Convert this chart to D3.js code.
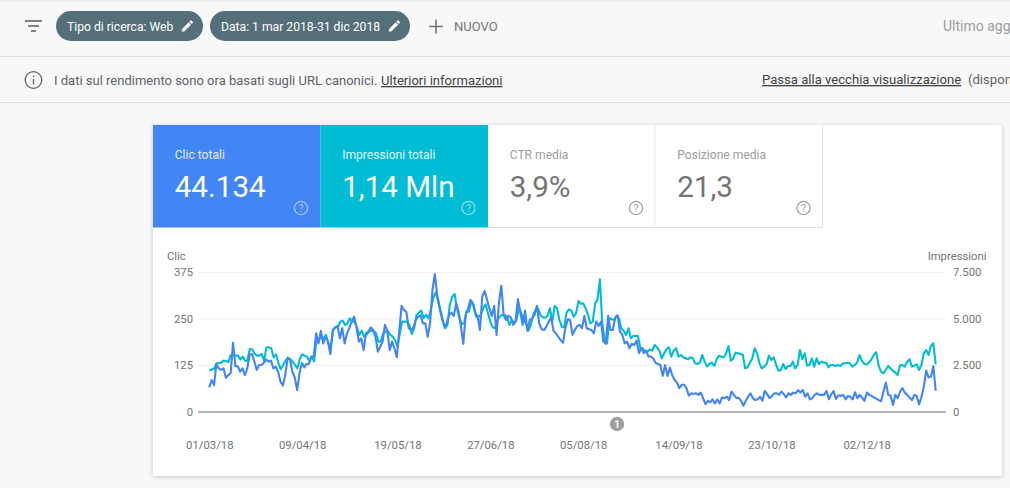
<!DOCTYPE html>
<html><head><meta charset="utf-8">
<script src="https://cdn.jsdelivr.net/npm/d3@7"></script>
<style>
html,body{margin:0;padding:0;background:#f8f8f8;overflow:hidden}
svg{display:block;font-family:Roboto,sans-serif}
</style></head><body>
<svg id="c" width="1010" height="488"></svg>
<script>
const clicks=[66,86,72,129,117,113,117,92,99,104,186,123,123,108,117,99,117,153,156,135,113,126,126,132,141,135,138,117,122,108,81,71,99,146,141,108,93,59,104,132,120,129,129,149,149,211,184,218,184,202,189,155,220,227,231,198,225,184,211,225,243,256,227,189,198,166,211,216,227,220,202,162,175,189,234,218,166,189,171,147,216,285,274,269,225,220,227,247,256,260,238,238,202,238,327,370,314,283,256,231,238,260,
267,258,292,270,229,183,260,278,301,292,265,258,220,310,325,301,278,258,285,207,292,339,260,247,258,254,234,243,303,269,234,272,218,247,251,260,285,238,222,220,229,243,254,218,211,202,193,186,225,249,247,207,220,231,234,225,258,225,222,220,211,243,231,243,189,183,258,220,220,254,260,216,207,184,189,171,183,180,192,158,171,158,165,149,149,144,132,129,126,97,126,97,119,99,86,79,64,73,73,64,44,50,48,50,46,52,37,21,30,26,34,23,34,
23,39,37,41,32,55,46,38,38,30,17,30,41,50,37,32,34,41,30,57,48,37,43,50,50,46,55,48,39,50,46,52,50,59,52,59,41,50,34,37,46,50,46,46,46,57,34,48,56,35,45,43,46,34,43,41,34,53,37,46,38,30,52,46,43,39,36,32,29,55,79,46,44,19,46,37,55,64,52,46,39,32,46,43,20,41,68,111,93,95,123,57];
const impressions=[2202,2291,2309,2613,2631,2649,2757,2739,2685,3061,3061,3025,3025,2828,2971,2757,2757,3383,3365,3150,3025,3025,3115,2757,3473,3473,3419,2936,3097,2649,2291,2524,2757,2900,2828,2703,2524,2345,2828,3097,3025,2971,2757,2971,2703,3866,3866,4045,3956,4135,3687,3508,4403,4547,4547,4851,4905,4672,4761,5030,4851,4851,4547,4135,4368,4045,4135,4314,4368,4368,4224,3777,3777,4224,4314,4314,4135,4045,3866,3508,4224,4851,4851,4851,4672,4189,4493,5209,5334,5442,5030,5209,5030,5477,6104,6408,6014,5388,4851,4493,4672,5746,
6193,6337,5567,5030,4726,4761,5388,5388,5925,5746,5119,5119,5209,5567,5782,5298,4851,4547,4493,4940,5119,5209,5209,5119,4672,4940,4761,4940,5567,5298,4940,4761,4368,4672,5209,5477,5567,5209,5084,5066,5155,5567,4851,5692,5567,4940,4582,4547,5334,5513,5442,5119,5298,5961,5800,5835,5567,5209,4761,4851,5835,6014,7124,4761,3866,3687,5030,4976,4940,5155,5030,4493,4368,4135,4493,3956,4081,4081,4081,3419,3419,3240,3240,3365,3294,3598,3473,3294,2882,3150,3365,3473,2971,3294,3419,2971,3061,2936,2882,2828,2936,2882,2613,2578,2649,3061,2703,2434,2578,2649,2470,2828,3025,
2971,2936,3150,3544,2757,2882,3186,3150,3115,3061,2345,2399,2649,2882,3419,3150,2613,2345,2434,2578,3025,2792,2936,2524,2220,2255,2578,2309,2470,2470,2703,2345,2524,3329,2846,3150,2488,2524,2882,2434,2882,2578,2703,2649,2649,2399,2524,2524,2470,2524,2470,2613,2613,2649,2613,2434,2524,2649,3061,2757,2578,2560,2649,2828,3061,3204,2524,2166,2076,2255,2470,2345,2220,2130,1987,2506,2524,2434,2703,2828,2434,2488,2560,2255,2524,3150,3329,3061,3544,3687,2560];
const clickTicks=[0,125,250,375];
const imprTicks=[0,2500,5000,7500];
const imprLabels=["0","2.500","5.000","7.500"];
const dateTicks=["2018-03-01","2018-04-09","2018-05-19","2018-06-27","2018-08-05","2018-09-14","2018-10-23","2018-12-02"];
const tiles=[
 {label:"Clic totali",value:"44.134",fill:"#4285f4",fg:"#fff",sub:"#e3ecfd",help:"#a9c6fa"},
 {label:"Impressioni totali",value:"1,14 Mln",fill:"#00bcd4",fg:"#fff",sub:"#dff6f9",help:"#8ce0ea"},
 {label:"CTR media",value:"3,9%",fill:"#fff",fg:"#757575",sub:"#9e9e9e",help:"#9e9e9e"},
 {label:"Posizione media",value:"21,3",fill:"#fff",fg:"#757575",sub:"#9e9e9e",help:"#9e9e9e"}];

const svg=d3.select("#c");
const defs=svg.append("defs");
const f=defs.append("filter").attr("id","sh").attr("x","-5%").attr("y","-5%").attr("width","110%").attr("height","110%");
f.append("feDropShadow").attr("dx",0).attr("dy",1).attr("stdDeviation",2).attr("flood-color","#000").attr("flood-opacity",.22);
const txt=(x,y,s,size,fill,anchor)=>svg.append("text").attr("x",x).attr("y",y).attr("font-size",size).attr("fill",fill).attr("text-anchor",anchor||"start").text(s);

// page chrome
svg.append("rect").attr("width",1010).attr("height",2).attr("fill","#ececec");
[56,102].forEach(y=>svg.append("line").attr("x1",0).attr("x2",1010).attr("y1",y+.5).attr("y2",y+.5).attr("stroke","#e0e0e0").attr("stroke-width",1));
// filter icon
[[25,42,21],[28,39,26],[31,36,31]].forEach(d=>svg.append("line").attr("x1",d[0]).attr("x2",d[1]).attr("y1",d[2]).attr("y2",d[2]).attr("stroke","#5f6368").attr("stroke-width",1.6));
// chips
const pencil=(x,y)=>svg.append("path").attr("transform",`translate(${x},${y}) scale(.62)`).attr("fill","#fff").attr("d","M3 17.25V21h3.75L17.81 9.94l-3.75-3.75L3 17.25zM20.71 7.04a1 1 0 0 0 0-1.41l-2.34-2.34a1 1 0 0 0-1.41 0l-1.83 1.83 3.75 3.75 1.83-1.83z");
[[56,147,"Tipo di ricerca: Web",67,180],[210,200,"Data: 1 mar 2018-31 dic 2018",221,387]].forEach(d=>{
 svg.append("rect").attr("x",d[0]).attr("y",11).attr("width",d[1]).attr("height",30).attr("rx",15).attr("fill","#546e7a");
 txt(d[3],31,d[2],12.15,"#fff");
 pencil(d[4],18.5);
});
svg.append("path").attr("d","M436 19.5V33.5M429 26.5H443").attr("stroke","#757575").attr("stroke-width",1.6).attr("fill","none");
txt(454,31,"NUOVO",13,"#757575");
txt(943,31,"Ultimo agg",14,"#9e9e9e");
// info row
svg.append("circle").attr("cx",33.5).attr("cy",80).attr("r",8.3).attr("fill","none").attr("stroke","#616161").attr("stroke-width",1.3);
svg.append("path").attr("d","M33.5 79V84.5M33.5 75.5V77").attr("stroke","#616161").attr("stroke-width",1.3);
txt(54,85,"I dati sul rendimento sono ora basati sugli URL canonici.",13,"#5f6368");
txt(381,85,"Ulteriori informazioni",13.05,"#424242").attr("text-decoration","underline");
txt(762,84,"Passa alla vecchia visualizzazione",13.1,"#424242").attr("text-decoration","underline");
txt(968,84,"(dispon",13.1,"#5f6368");

// card
svg.append("rect").attr("x",153).attr("y",125).attr("width",849).attr("height",351).attr("fill","#fff").attr("filter","url(#sh)");
const tileX=d3.scaleBand().domain(d3.range(tiles.length)).range([153,823]);
tiles.forEach((t,i)=>{
 const x=tileX(i),w=tileX.bandwidth();
 svg.append("rect").attr("x",x).attr("y",125).attr("width",w).attr("height",102.5).attr("fill",t.fill);
 if(i>=2) svg.append("path").attr("d",`M${x+w-.5} 125V227.5H${x}`).attr("fill","none").attr("stroke","#e0e0e0");
 txt(x+21.7,158.5,t.label,12.1,t.sub);
 txt(x+21.7,197,t.value,29.6,t.fg);
 const hx=x+148,hy=208;
 svg.append("circle").attr("cx",hx).attr("cy",hy).attr("r",6.6).attr("fill","none").attr("stroke",t.help).attr("stroke-width",1.2);
 txt(hx,hy+3.7,"?",10,t.help,"middle");
});

// scales
const parse=d3.utcParse("%Y-%m-%d");
const fmt=d3.utcFormat("%d/%m/%y");
const x=d3.scaleUtc().domain([parse("2018-03-01"),parse("2018-12-31")]).range([209.3,935.7]);
const yL=d3.scaleLinear().domain([0,375]).range([412,272.3]);
const yR=d3.scaleLinear().domain([0,7500]).range([412,272.3]);
// grid
svg.append("g").selectAll("line").data(clickTicks.slice(1)).join("line")
 .attr("x1",198).attr("x2",946).attr("y1",d=>yL(d)).attr("y2",d=>yL(d)).attr("stroke","#eeeeee").attr("stroke-width",1);
svg.append("line").attr("x1",198).attr("x2",946).attr("y1",yL(0)).attr("y2",yL(0)).attr("stroke","#9e9e9e").attr("stroke-width",1.5);
// axes
const styleAxis=g=>{g.select(".domain").remove();g.selectAll("line").remove();g.selectAll("text").attr("fill","#757575").attr("font-size",11.3).attr("font-family","Roboto,sans-serif");};
svg.append("g").attr("transform","translate(193,-0.3)").call(d3.axisLeft(yL).tickValues(clickTicks).tickSize(0).tickPadding(0)).call(styleAxis);
svg.append("g").attr("transform","translate(953,-0.3)").call(d3.axisRight(yR).tickValues(imprTicks).tickSize(0).tickPadding(0).tickFormat((d,i)=>imprLabels[i])).call(styleAxis);
svg.append("g").attr("transform","translate(0,441)").call(d3.axisBottom(x).tickValues(dateTicks.map(parse)).tickSize(0).tickPadding(0).tickFormat(fmt)).call(styleAxis);
txt(167,260,"Clic",11.3,"#757575");
txt(986.5,260,"Impressioni",11.3,"#757575","end");
// lines
const xIdx=a=>d3.scalePoint().domain(d3.range(a.length)).range(x.range());
const draw=(a,y,c)=>{const xi=xIdx(a);svg.append("path").datum(a).attr("fill","none").attr("stroke",c).attr("stroke-width",2.1).attr("stroke-linejoin","round")
 .attr("d",d3.line().x((d,i)=>xi(i)).y(d=>y(d)));};
draw(impressions,yR,"#00bcd4");
draw(clicks,yL,"#4285f4");
// annotation
svg.append("circle").attr("cx",617).attr("cy",424).attr("r",7.2).attr("fill","#9e9e9e");
txt(617,427.8,"1",10,"#fff","middle").attr("font-weight",700);
</script></body></html>
